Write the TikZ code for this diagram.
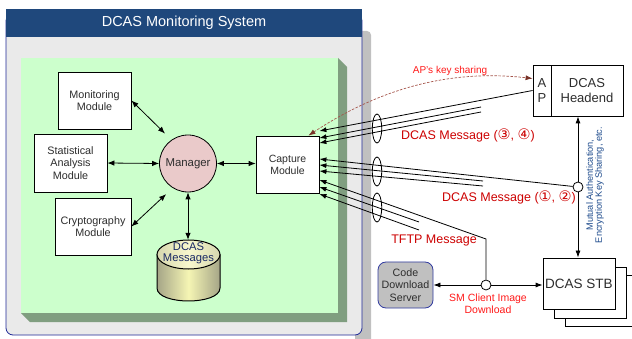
\documentclass[tikz,border=0pt]{standalone}
\usepackage{fontspec}
\setmainfont{Liberation Sans}
\newfontfamily\cfont{DejaVu Sans}
\usetikzlibrary{arrows.meta,shapes.geometric,calc}

\definecolor{titleblue}{RGB}{31,72,124}
\definecolor{navyline}{RGB}{30,40,150}
\definecolor{winbg}{RGB}{234,234,234}
\definecolor{shadowgray}{RGB}{192,192,192}
\definecolor{panelgreen}{RGB}{204,255,204}
\definecolor{paneldark}{RGB}{128,158,128}
\definecolor{mgrpink}{RGB}{234,202,202}
\definecolor{msgred}{RGB}{204,0,0}
\definecolor{brightred}{RGB}{255,25,25}
\definecolor{dashbrown}{RGB}{165,85,75}
\definecolor{dashtip}{RGB}{120,50,40}
\definecolor{labelblue}{RGB}{30,75,140}
\definecolor{textgray}{RGB}{45,45,45}
\definecolor{srvgray}{RGB}{192,192,192}
\definecolor{srvblue}{RGB}{50,60,160}
\definecolor{cylside}{RGB}{165,165,135}
\definecolor{cylmid}{RGB}{245,245,180}
\definecolor{cyltopA}{RGB}{215,215,175}
\definecolor{cyltopB}{RGB}{248,248,205}
\definecolor{cyltext}{RGB}{25,40,100}

\tikzset{
  modbox/.style={draw=black, fill=white, line width=0.8pt, inner sep=1pt, align=center,
    text=textgray, font=\fontsize{10.8}{12.6}\selectfont},
  dbl/.style={{Latex[length=7pt,width=5.5pt]}-{Latex[length=7pt,width=5.5pt]}, line width=0.8pt},
  arr/.style={-{Latex[length=7pt,width=5pt]}, line width=0.8pt},
  msg/.style={text=msgred, font=\fontsize{12.5}{14}\selectfont, inner sep=0},
  junc/.style={circle, draw, fill=white, minimum size=10pt, inner sep=0, line width=0.8pt},
  bundle/.style={ellipse, draw, minimum width=9.4pt, minimum height=29pt, inner sep=0, line width=0.8pt},
  rbox/.style={draw=black, fill=white, line width=0.8pt, inner sep=0, align=center, text=textgray}
}
\newcommand{\circnum}[1]{{\cfont\fontsize{14.5}{14}\selectfont #1}}

\begin{document}
\begin{tikzpicture}[x=1pt,y=-1pt]
\useasboundingbox (0,0) rectangle (632,339);

% window shadow and window
\fill[shadowgray, rounded corners=4pt] (355,31) rectangle (371,350);
\draw[navyline, fill=winbg, line width=0.8pt, rounded corners=7pt] (6,14) rectangle (362,335);
\fill[titleblue] (5.6,9) rectangle (362.4,37);
\node[text=white, font=\fontsize{14.5}{16}\selectfont] (title) at (184,23) {DCAS Monitoring System};

% green panel
\fill[paneldark] (338,58) -- (347,67) -- (347,322) -- (30,322) -- (21,313) -- (338,313) -- cycle;
\fill[panelgreen] (21,58) rectangle (338,313);

% modules
\node[modbox, minimum width=73pt, minimum height=57pt] (mon) at (94.5,100.5) {Monitoring\\Module};
\node[modbox, minimum width=73pt, minimum height=58pt] (stat) at (70.5,163) {Statistical\\Analysis\\Module};
\node[modbox, minimum width=76pt, minimum height=57pt] (cry) at (93,226.5) {Cryptography\\Module};
\node[circle, draw, fill=mgrpink, minimum size=57pt, inner sep=0, text=textgray,
  font=\fontsize{11.4}{13}\selectfont, line width=0.8pt] (mgr) at (188,163.5) {Manager};
\node[modbox, minimum width=63pt, minimum height=57pt, font=\fontsize{10.5}{12}\selectfont] (cap) at (287.5,164.5) {Capture\\Module};

% database cylinder
\path[left color=cylside, right color=cylside, middle color=cylmid]
  (157,254.5) -- (157,288) .. controls (157,305.3) and (220,305.3) .. (220,288) -- (220,254.5) -- cycle;
\draw[line width=1pt] (157,254.5) -- (157,288) .. controls (157,305.3) and (220,305.3) .. (220,288) -- (220,254.5);
\draw[line width=1pt, left color=cyltopA, right color=cyltopA, middle color=cyltopB] (188.5,254.5) ellipse [x radius=31.5, y radius=14.5];
\node[minimum width=63pt, minimum height=61pt, inner sep=0] (db) at (188.5,270.5) {};
\node[text=cyltext, align=center, inner sep=0, font=\fontsize{11.2}{11.5}\selectfont] (dbtext) at (188.5,253.5) {DCAS\\Messages};

% left panel connectors
\draw[dbl, shorten >=9pt] (mon.east) -- (mgr.125);
\draw[dbl] (stat.east) -- (mgr.west);
\draw[dbl, shorten >=9pt] (cry.east) -- (mgr.238);
\draw[dbl] (mgr.east) -- (mgr.east -| cap.west);
\draw[dbl] (mgr.south) -- (mgr.south |- db.north);

% right side boxes
\node[rbox, minimum width=18pt, minimum height=51pt, font=\fontsize{13}{15}\selectfont] (ap) at (542,90.5) {A\\P};
\node[rbox, minimum width=72pt, minimum height=51pt, font=\fontsize{13}{15}\selectfont] (he) at (587,90.5) {DCAS\\Headend};
\draw[line width=0.8pt, fill=white] (565,275) rectangle (637,326);
\draw[line width=0.8pt, fill=white] (554,267) rectangle (626,318);
\node[rbox, minimum width=72pt, minimum height=51pt, font=\fontsize{13.5}{15}\selectfont] (stb) at (579,283.5) {DCAS STB};
\node[draw=srvblue, fill=srvgray, rounded corners=8pt, line width=0.8pt, minimum width=55pt, minimum height=46pt,
  inner sep=0, align=center, text=textgray, font=\fontsize{10.7}{12.5}\selectfont] (srv) at (405.5,285) {Code\\Download\\Server};

% junctions
\node[junc] (jn1) at (578,187) {};
\node[junc] (jn2) at (486,285) {};
\coordinate (c1b) at (481,107);
\coordinate (c1c) at (481,112);
\coordinate (c2b) at (483,181);
\coordinate (c2c) at (483,186);
\coordinate (c3a) at (486,239);
\coordinate (c3b) at (419,222);
\coordinate (c3c) at (419,230);

% headend - STB
\draw[arr] (jn1) -- (jn1 |- he.south);
\draw[arr] (jn1) -- (jn1 |- stb.north);

% message lines
\draw[arr] (ap.west) -- ([yshift=33.5pt]cap.east);
\draw[arr] (c1b) -- ([yshift=26.5pt]cap.east);
\draw[arr] (c1c) -- ([yshift=21.5pt]cap.east);
\draw[arr] (jn1) -- ([yshift=5.5pt]cap.east);
\draw[arr] (c2b) -- ([yshift=-0.5pt]cap.east);
\draw[arr] (c2c) -- ([yshift=-6.5pt]cap.east);
\draw[arr] (jn2) -- (c3a) -- ([yshift=-15.5pt]cap.east);
\draw[arr] (c3b) -- ([yshift=-22.5pt]cap.east);
\draw[arr] (c3c) -- ([yshift=-29.5pt]cap.east);

% download arrows
\draw[arr] (jn2) -- (srv.east |- jn2);
\draw[arr] (jn2) -- (stb.west |- jn2);

% bundles
\node[bundle] (b1) at (377,128.5) {};
\node[bundle] (b2) at (377,171.5) {};
\node[bundle] (b3) at (377,207.5) {};

% AP key sharing
\draw[dashbrown, line width=0.7pt, dash pattern=on 2.5pt off 1.5pt,
  {Latex[length=7pt,width=5pt,color=dashtip]}-{Latex[length=7pt,width=5pt,color=dashtip]}]
  ([xshift=-11pt]cap.north east) .. controls (370,95) and (440,68) .. ([yshift=12pt]ap.west);

% labels
\node[text=brightred, inner sep=0, font=\fontsize{10}{12}\selectfont] (lap) at (450,70.5) {AP’s key sharing};
\node[msg] (l34) at (468,135) {DCAS Message (\circnum{③}, \circnum{④})};
\node[msg] (l12) at (509,197) {DCAS Message (\circnum{①}, \circnum{②})};
\node[msg] (ltftp) at (434,240.5) {TFTP Message};
\node[text=brightred, inner sep=0, align=center, font=\fontsize{10.5}{12.3}\selectfont] (lsm) at (488,304) {SM Client Image\\Download};
\node[rotate=90, text=labelblue, inner sep=0, align=center, font=\fontsize{9.2}{9}\selectfont] (lmut) at (595,185) {Mutual Authentication,\\Encryption Key Sharing, etc.};
\end{tikzpicture}
\end{document}
